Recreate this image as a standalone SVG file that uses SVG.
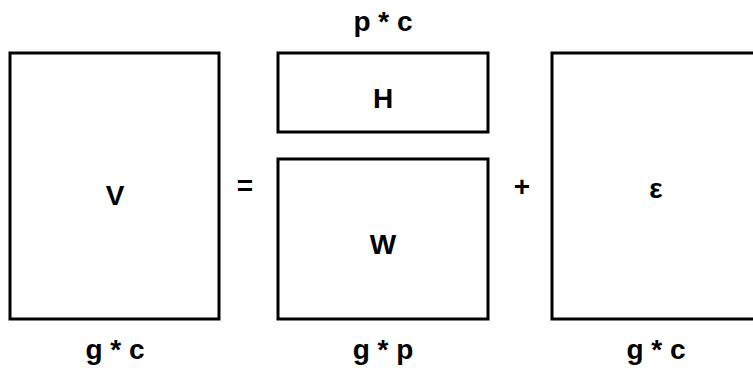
<svg xmlns="http://www.w3.org/2000/svg" width="753" height="371" viewBox="0 0 753 371">
<style>
.box{fill:#fff;stroke:#000;stroke-width:3}
.t{font-family:"Liberation Sans",Arial,sans-serif;font-weight:bold;font-size:28px;fill:#000;text-anchor:middle}
</style>
<rect width="753" height="371" fill="#fff"/>
<g id="V"><rect class="box" x="10" y="53" width="209" height="266"/><text class="t" x="115" y="205">V</text></g>
<g id="H"><rect class="box" x="278" y="53" width="210" height="79"/><text class="t" x="383" y="108">H</text></g>
<g id="W"><rect class="box" x="278" y="159" width="210" height="160"/><text class="t" x="383" y="254">W</text></g>
<g id="E"><rect class="box" x="552" y="53" width="215" height="266"/><text class="t" x="656" y="198">ε</text></g>
<g id="ops">
<text class="t" x="245" y="195">=</text>
<text class="t" x="522" y="196">+</text>
</g>
<g id="labels">
<text class="t" x="383" y="31">p * c</text>
<text class="t" x="115" y="359">g * c</text>
<text class="t" x="383" y="359">g * p</text>
<text class="t" x="656" y="359">g * c</text>
</g>
<g id="connectors"></g>
</svg>
